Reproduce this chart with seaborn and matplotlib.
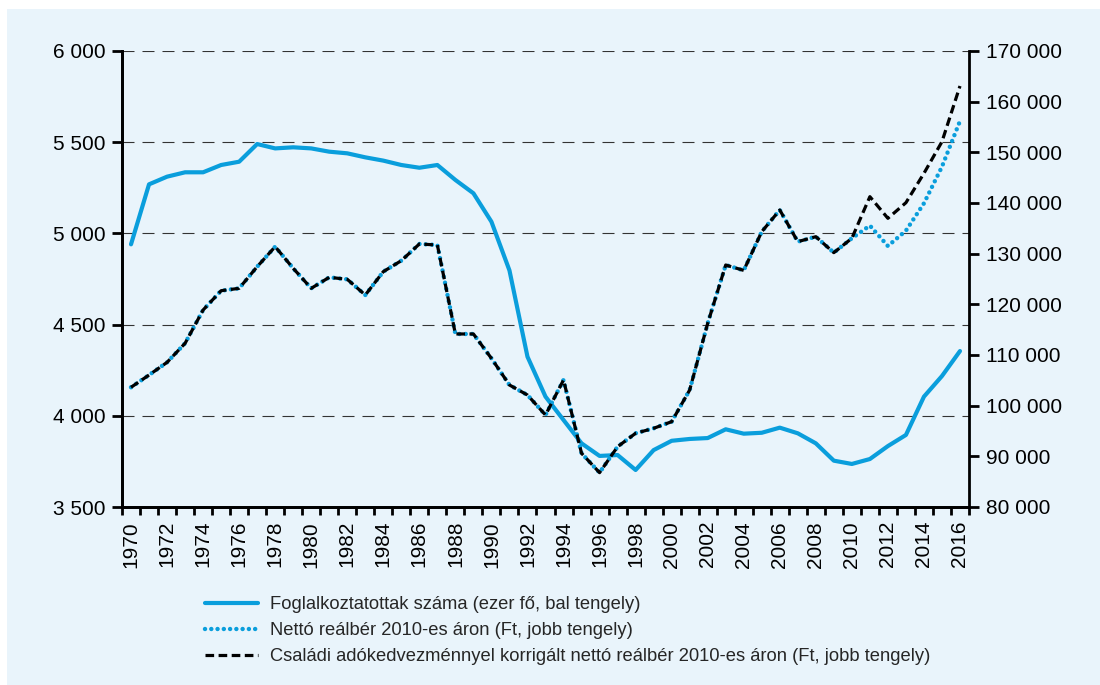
import matplotlib
matplotlib.use('Agg')
import matplotlib.pyplot as plt
import matplotlib.patches as mpatches
from matplotlib.ticker import FixedLocator, FuncFormatter
from matplotlib.lines import Line2D
import seaborn as sns
import numpy as np
import pandas as pd

# --- data -------------------------------------------------------------
years = list(range(1970, 2017))

employment = [4940, 5269, 5311, 5335, 5335, 5375, 5393, 5490, 5466, 5472,
              5466, 5448, 5439, 5417, 5399, 5375, 5360, 5375, 5293, 5220,
              5064, 4797, 4324, 4105, 3977, 3849, 3780, 3785, 3703, 3812,
              3863, 3873, 3878, 3926, 3902, 3907, 3935, 3904, 3849, 3754,
              3736, 3763, 3834, 3895, 4105, 4218, 4355]

net_wage = [103630, 106050, 108550, 112310, 118880, 122690, 123160, 127430, 131380, 127110,
            123160, 125330, 124940, 121840, 126450, 128620, 131910, 131710, 114150, 114150,
            109340, 104080, 102100, 98160, 105070, 90600, 86780, 91900, 94550, 95530,
            96840, 103090, 116250, 127760, 126700, 134340, 138620, 132370, 133350, 130200,
            133040, 135540, 131510, 134540, 139940, 147170, 156180]

net_wage_family = net_wage[:41] + [141250, 136980, 140060, 145860, 152100, 163090]

labels = ['Foglalkoztatottak száma (ezer fő, bal tengely)',
          'Nettó reálbér 2010-es áron (Ft, jobb tengely)',
          'Családi adókedvezménnyel korrigált nettó reálbér 2010-es áron (Ft, jobb tengely)']

BLUE = '#0A9EDC'
BG = '#E9F4FB'

df = pd.DataFrame({'year': years, 'employment': employment,
                   'net_wage': net_wage, 'net_wage_family': net_wage_family})

sns.set_theme(style='white')
plt.rcParams['font.family'] = ['Liberation Sans', 'DejaVu Sans']

fig = plt.figure(figsize=(11, 6.85), dpi=100)
fig.patch.set_facecolor('white')
fig.patches.append(mpatches.Rectangle((7 / 1100, 0), 1 - 7 / 1100, 1 - 9 / 685,
                                      transform=fig.transFigure, facecolor=BG,
                                      edgecolor='none', zorder=-10))

ax = fig.add_axes([122 / 1100, 1 - 507 / 685, 847 / 1100, 456 / 685])
ax.set_facecolor('none')
ax2 = ax.twinx()

sns.lineplot(data=df, x='year', y='employment', ax=ax, color=BLUE, lw=3.0, zorder=3)

sns.lineplot(data=df, x='year', y='net_wage', ax=ax2, color=BLUE, lw=3.2,
             linestyle=(0, (0.01, 1.4)), dash_capstyle='round', zorder=3)
sns.lineplot(data=df, x='year', y='net_wage_family', ax=ax2, color='black', lw=2.3,
             linestyle=(0, (2.7, 1.4)), dash_capstyle='butt', zorder=4)

# left axis
ax.set_ylim(3500, 6000)
ax.set_yticks(np.arange(3500, 6001, 500))
ax.yaxis.grid(True, color='#333333', lw=0.8, linestyle=(0, (10.8, 7.2)))
ax.set_axisbelow(True)
ax2.set_ylim(80000, 170000)
ax2.set_yticks(np.arange(80000, 170001, 10000))
ax2.grid(False)

fmt = FuncFormatter(lambda v, p: f'{int(v):,}'.replace(',', ' '))
ax.yaxis.set_major_formatter(fmt)
ax2.yaxis.set_major_formatter(fmt)

# x axis: labels at year centres, tick marks at boundaries
ax.set_xlim(1969.5, 2016.5)
ax.xaxis.set_major_locator(FixedLocator(years[::2]))
ax.xaxis.set_minor_locator(FixedLocator(np.arange(1969.5, 2017, 1.0)))
ax.set_xticklabels([str(y) for y in years[::2]], rotation=90)
ax.tick_params(axis='x', which='major', length=0, pad=10, labelsize=15, colors='black')
ax.tick_params(axis='x', which='minor', length=6, width=2, direction='out', bottom=True, color='black')
ax.tick_params(axis='y', length=7, width=2, direction='out', left=True, pad=5, labelsize=15, colors='black')
ax2.tick_params(axis='y', length=7, width=2, direction='out', right=True, pad=5, labelsize=15, colors='black')

for a in (ax, ax2):
    a.set_xlabel('')
    a.set_ylabel('')
    a.spines['top'].set_visible(False)
    for s in ('left', 'right', 'bottom'):
        a.spines[s].set_color('black')
        a.spines[s].set_linewidth(2)
ax.spines['right'].set_visible(False)

handles = [Line2D([], [], color=BLUE, lw=3.0),
           Line2D([], [], color=BLUE, lw=3.2, linestyle=(0, (0.01, 1.4)), dash_capstyle='round'),
           Line2D([], [], color='black', lw=2.3, linestyle=(0, (2.7, 1.4)))]
fig.legend(handles, labels, loc='upper left', bbox_to_anchor=(205 / 1100, 1 - 596 / 685),
           frameon=False, borderpad=0, borderaxespad=0, handlelength=2.9, handletextpad=0.65,
           labelspacing=0.5, prop={'family': ['Liberation Sans'], 'size': 13.2})

fig.savefig('out.png', dpi=100, facecolor='white')
